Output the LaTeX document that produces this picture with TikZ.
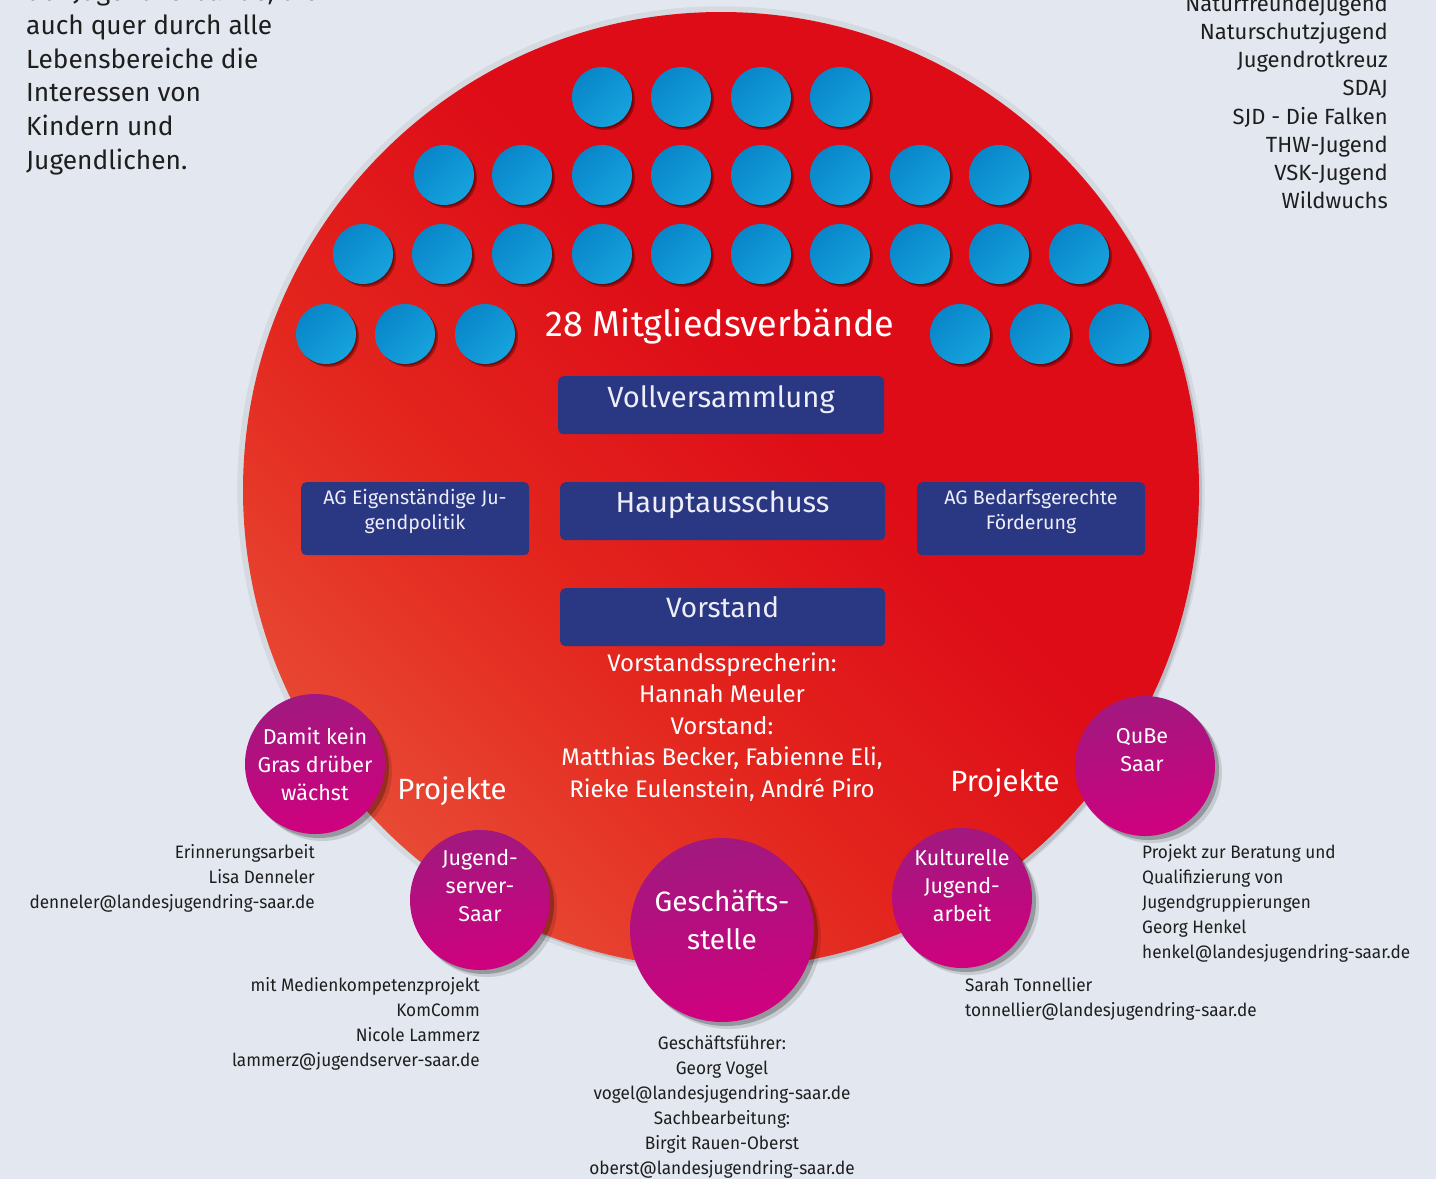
\documentclass[tikz,border=0pt]{standalone}
\usepackage{fontspec}
\setmainfont{Fira Sans}
\newfontfamily\condfont[FakeStretch=0.955]{Fira Sans}
\usetikzlibrary{shadows}
\definecolor{bg}{HTML}{E3E8F0}
\definecolor{rOr}{HTML}{EA5A3E}
\definecolor{rMid}{HTML}{E3261E}
\definecolor{rRed}{HTML}{DE0C17}
\definecolor{dotA}{HTML}{0986C9}
\definecolor{dotB}{HTML}{16A3DD}
\definecolor{magA}{HTML}{A1197F}
\definecolor{magB}{HTML}{D0007E}
\definecolor{boxblue}{HTML}{2A3783}
\definecolor{boxtext}{HTML}{EEEEF8}
\definecolor{txt}{HTML}{1E1E1E}
\pgfdeclareverticalshading{redsh}{100bp}{color(0bp)=(rOr); color(18bp)=(rOr); color(40bp)=(rMid); color(56bp)=(rRed); color(100bp)=(rRed)}
\begin{document}
\begin{tikzpicture}[x=1pt,y=-1pt,
  bigdisc/.style={circle, minimum size=956pt, inner sep=0pt, shading=redsh, shading angle=-45,
    general shadow={shadow scale=1.012, fill=black, opacity=0.06},
    drop shadow={shadow xshift=3pt, shadow yshift=-3pt, fill=black, opacity=0.12}},
  dot/.style={circle, minimum size=60pt, inner sep=0pt, top color=dotA, bottom color=dotB, shading angle=45,
    drop shadow={shadow xshift=3pt, shadow yshift=-3pt, fill=black!80!red, opacity=0.35},
    drop shadow={shadow xshift=1.5pt, shadow yshift=-1.5pt, fill=black!80!red, opacity=0.4}},
  mag/.style={circle, inner sep=0pt, top color=magA, bottom color=magB, shading angle=10,
    drop shadow={shadow xshift=7pt, shadow yshift=-7pt, fill=black, opacity=0.12},
    drop shadow={shadow xshift=4pt, shadow yshift=-4pt, fill=black, opacity=0.25}},
  orgbox/.style={rectangle, rounded corners=5pt, fill=boxblue, inner sep=0pt, anchor=north west},
  boxtxt/.style={text=boxtext, inner sep=0pt, anchor=base},
  wtxt/.style={text=white, inner sep=0pt, align=center},
  darktxt/.style={text=txt, inner sep=0pt},
  small/.style={text=txt, inner sep=0pt, font=\condfont\fontsize{18}{25}\selectfont}
]
\useasboundingbox (0,0) rectangle (1436,1179);
\fill[bg] (0,0) rectangle (1436,1179);

% top texts
\node[darktxt, anchor=west, align=left, font=\fontsize{26.3}{33.8}\selectfont] (intro) at (26,77.5)
 {der Jugendverbände, die\\auch quer durch alle\\Lebensbereiche die\\Interessen von\\Kindern und\\Jugendlichen.};
\node[darktxt, anchor=east, align=right, font=\fontsize{22}{28.1}\selectfont] (members) at (1388,101.5)
 {Naturfreundejugend\\Naturschutzjugend\\Jugendrotkreuz\\SDAJ\\SJD - Die Falken\\THW-Jugend\\VSK-Jugend\\Wildwuchs};

% big circle
\node[bigdisc] (disc) at (721,490) {};

% blue dots: 28 member associations
\foreach \x [count=\i] in {602,681,761,840} \node[dot] (a\i) at (\x,97) {};
\foreach \x [count=\i] in {444,522,602,681,761,840,920,999} \node[dot] (b\i) at (\x,175) {};
\foreach \x [count=\i] in {363,442,522,602,681,761,840,920,999,1079} \node[dot] (c\i) at (\x,254) {};
\foreach \x [count=\i] in {326,405,485,960,1040,1119} \node[dot] (d\i) at (\x,334) {};

\node[boxtxt, text=white, font=\fontsize{36}{42}\selectfont] (mv) at (720,336) {28 Mitgliedsverbände};

% boxes
\node[orgbox, minimum width=326pt, minimum height=58pt] (vv) at (558,376) {};
\node[boxtxt, font=\fontsize{29.2}{35}\selectfont] (vvt) at (721,407) {Vollversammlung};
\node[orgbox, minimum width=325pt, minimum height=58pt] (ha) at (560,482) {};
\node[boxtxt, font=\fontsize{29}{35}\selectfont] (hat) at (722.5,512) {Hauptausschuss};
\node[orgbox, minimum width=325pt, minimum height=58pt] (vs) at (560,588) {};
\node[boxtxt, font=\fontsize{28}{34}\selectfont] (vst) at (722.5,617.5) {Vorstand};
\node[orgbox, minimum width=228pt, minimum height=73pt] (ag1) at (301,482) {};
\node[wtxt, text=boxtext, font=\fontsize{19.6}{25}\selectfont] (ag1t) at (415,511.5) {AG Eigenständige Ju-\\gendpolitik};
\node[orgbox, minimum width=228pt, minimum height=73pt] (ag2) at (917,482) {};
\node[wtxt, text=boxtext, font=\fontsize{19.6}{25}\selectfont] (ag2t) at (1031,511.5) {AG Bedarfsgerechte\\Förderung};

\node[wtxt, font=\fontsize{24}{31.5}\selectfont] (vorst) at (722,727)
 {Vorstandssprecherin:\\Hannah Meuler\\Vorstand:\\Matthias Becker, Fabienne Eli,\\Rieke Eulenstein, André Piro};

\node[boxtxt, text=white, font=\fontsize{29.3}{34}\selectfont] (pl) at (452,799) {Projekte};
\node[boxtxt, text=white, font=\fontsize{29.3}{34}\selectfont] (pr) at (1005,791) {Projekte};

% magenta circles
\node[mag, minimum size=140pt] (gras) at (315,764) {};
\node[wtxt, font=\fontsize{21.5}{28}\selectfont] (grast) at (315,764) {Damit kein\\Gras drüber\\wächst};
\node[mag, minimum size=140pt] (js) at (480,900) {};
\node[wtxt, font=\fontsize{21.5}{28}\selectfont] (jst) at (480,886) {Jugend-\\server-\\Saar};
\node[mag, minimum size=184pt] (gs) at (722,930) {};
\node[wtxt, font=\fontsize{28}{38}\selectfont] (gst) at (722,920) {Geschäfts-\\stelle};
\node[mag, minimum size=140pt] (kj) at (962,898) {};
\node[wtxt, font=\fontsize{21.5}{28}\selectfont] (kjt) at (962,886) {Kulturelle\\Jugend-\\arbeit};
\node[mag, minimum size=140pt] (qb) at (1145,766) {};
\node[wtxt, font=\fontsize{21.5}{28}\selectfont] (qbt) at (1142,750) {QuBe\\Saar};

% small info texts
\node[small, anchor=east, align=right] (i1) at (315,878)
 {Erinnerungsarbeit\\Lisa Denneler\\denneler@landesjugendring-saar.de};
\node[small, anchor=east, align=right] (i2) at (480,1024)
 {mit Medienkompetenzprojekt\\KomComm\\Nicole Lammerz\\lammerz@jugendserver-saar.de};
\node[small, align=center] (i3) at (722,1107)
 {Geschäftsführer:\\Georg Vogel\\vogel@landesjugendring-saar.de\\Sachbearbeitung:\\Birgit Rauen-Oberst\\oberst@landesjugendring-saar.de};
\node[small, anchor=west, align=left] (i4) at (1142,903.5)
 {Projekt zur Beratung und\\Qualifizierung von\\Jugendgruppierungen\\Georg Henkel\\henkel@landesjugendring-saar.de};
\node[small, anchor=west, align=left] (i5) at (965,999)
 {Sarah Tonnellier\\tonnellier@landesjugendring-saar.de};
\end{tikzpicture}
\end{document}
